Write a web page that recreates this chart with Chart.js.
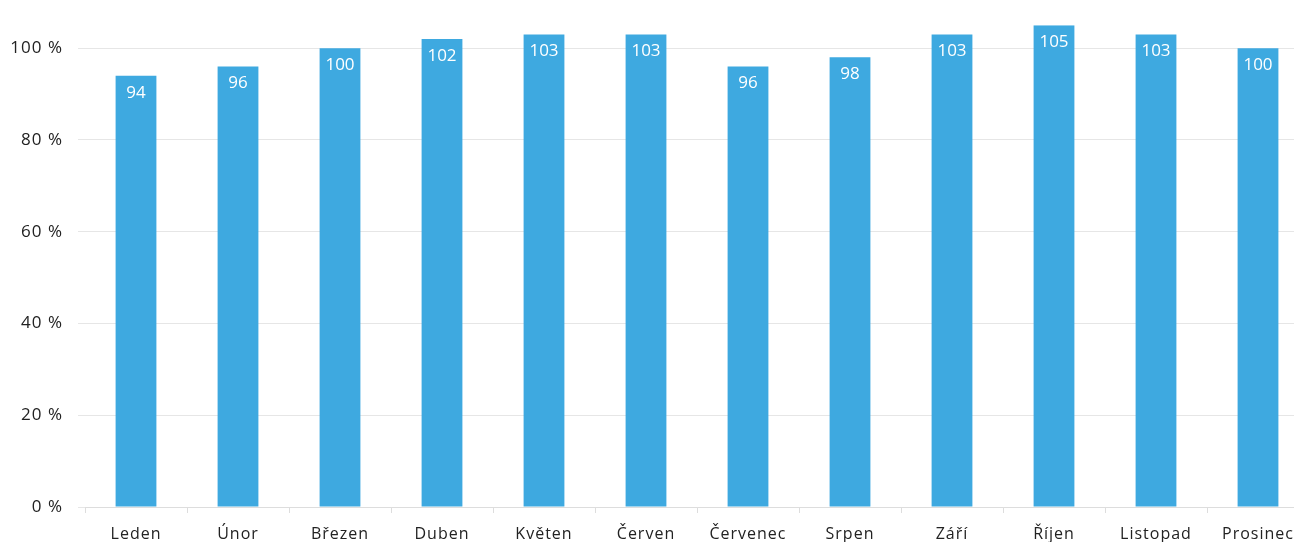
<!DOCTYPE html>
<html>
<head>
<meta charset="utf-8">
<script src="https://cdn.jsdelivr.net/npm/chart.js@4/dist/chart.umd.min.js"></script>
<style>
  html, body { margin: 0; padding: 0; background: #fff; overflow: hidden; }
  #wrap { position: absolute; left: 0; top: 0; width: 1309px; height: 542px; }
</style>
</head>
<body>
<div id="wrap"><canvas id="c"></canvas></div>
<script>
const months = ['Leden', 'Únor', 'Březen', 'Duben', 'Květen', 'Červen',
                'Červenec', 'Srpen', 'Září', 'Říjen', 'Listopad', 'Prosinec'];
const plnění = [94, 96, 100, 102, 103, 103, 96, 98, 103, 105, 103, 100];
const yTicks = [0, 20, 40, 60, 80, 100];

const FONT = "'Open Sans', sans-serif";
const BAR = '#3ea9e0';

// wider letter spacing on all canvas text
const spacing = {
  id: 'spacing',
  beforeUpdate(chart) { chart.ctx.letterSpacing = '1px'; },
  beforeDraw(chart) { chart.ctx.letterSpacing = '1px'; }
};

// value printed inside the top of each bar
const barValues = {
  id: 'barValues',
  afterDatasetsDraw(chart) {
    const ctx = chart.ctx;
    const meta = chart.getDatasetMeta(0);
    ctx.save();
    ctx.letterSpacing = '0px';
    ctx.fillStyle = '#ffffff';
    ctx.font = "500 17px " + FONT;
    ctx.textAlign = 'center';
    ctx.textBaseline = 'middle';
    meta.data.forEach((bar, i) => {
      ctx.fillText(String(chart.data.datasets[0].data[i]), bar.x, bar.y + 17);
    });
    ctx.restore();
  }
};

new Chart(document.getElementById('c'), {
  type: 'bar',
  data: {
    labels: months,
    datasets: [{
      data: plnění,
      backgroundColor: BAR,
      borderWidth: 0,
      barPercentage: 0.5,
      categoryPercentage: 0.8
    }]
  },
  options: {
    responsive: true,
    maintainAspectRatio: false,
    animation: false,
    events: [],
    layout: { padding: { top: 5, left: 0, right: 0, bottom: 0 } },
    plugins: { legend: { display: false }, tooltip: { enabled: false } },
    scales: {
      x: {
        offset: true,
        grid: { offset: true, drawOnChartArea: false, drawTicks: true, tickLength: 6, color: '#dddddd' },
        border: { display: true, color: '#dddddd' },
        ticks: { color: '#222', font: { family: FONT, size: 16 }, padding: 12, maxRotation: 0, autoSkip: false },
        afterFit(scale) { scale.height = 35; }
      },
      y: {
        min: 0,
        max: 105,
        afterBuildTicks(scale) { scale.ticks = yTicks.map(v => ({ value: v })); },
        grid: { color: '#e6e6e6', tickLength: 7 },
        border: { display: false },
        ticks: {
          color: '#222',
          font: { family: FONT, size: 17 },
          padding: 15,
          callback: v => v + ' %'
        },
        afterFit(scale) { scale.width = 85; }
      }
    }
  },
  plugins: [spacing, barValues]
});
</script>
</body>
</html>
